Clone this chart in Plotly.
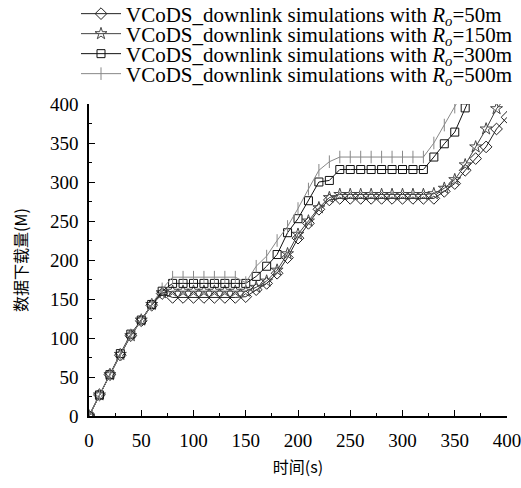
import plotly.graph_objects as go

time_s = [0, 10, 20, 30, 40, 50, 60, 70, 80, 90, 100, 110, 120, 130, 140, 150,
          160, 170, 180, 190, 200, 210, 220, 230, 240, 250, 260, 270, 280, 290,
          300, 310, 320, 330, 340, 350, 360, 370, 380, 390, 400]

r50 = [0, 27, 53, 78, 103, 122, 142, 157, 152, 152, 152, 152, 152, 152, 152, 153,
       162, 170, 183, 203, 228, 247, 265, 277, 279, 279, 279, 279, 279, 279,
       279, 279, 279, 279, 288, 298, 315, 330, 345, 368, 383]

r150 = [0, 27, 53, 79, 103, 123, 143, 158, 160, 160, 160, 160, 160, 160, 160, 160,
        165, 173, 187, 208, 233, 250, 267, 280, 284, 284, 284, 284, 284, 284,
        284, 284, 284, 285, 292, 303, 322, 345, 368, 394, 410]

r300 = [0, 27, 53, 80, 105, 123, 143, 160, 170, 170, 170, 170, 170, 170, 170, 170,
        179, 192, 207, 235, 253, 276, 300, 302, 316, 316, 316, 316, 316, 316,
        316, 316, 316, 332, 349, 364, 395, 425, None, None, None]

r500 = [0, 27, 53, 79, 104, 122, 143, 163, 178, 178, 178, 178, 178, 178, 178, 171,
        192, 205, 225, 243, 266, 291, 315, 326, 332, 332, 332, 332, 332, 332,
        332, 332, 332, 350, 373, 396, 420, None, None, None, None]

names = ["VCoDS_downlink simulations with <i>R<sub>o</sub></i>=50m",
         "VCoDS_downlink simulations with <i>R<sub>o</sub></i>=150m",
         "VCoDS_downlink simulations with <i>R<sub>o</sub></i>=300m",
         "VCoDS_downlink simulations with <i>R<sub>o</sub></i>=500m"]

x_ticks = [0, 50, 100, 150, 200, 250, 300, 350, 400]
y_ticks = [0, 50, 100, 150, 200, 250, 300, 350, 400]

series = [r50, r150, r300, r500]
symbols = ["diamond-open", "star-open", "square-open", "line-ns-open"]
colors = ["#222222", "#444444", "#111111", "#888888"]
sizes = [9, 9, 8, 9]
legend_ids = ["legend", "legend2", "legend3", "legend4"]

serif = "Liberation Serif, Times New Roman, serif"
cjk = "Noto Sans CJK SC"

fig = go.Figure()
for ys, nm, sym, col, sz, lg in zip(series, names, symbols, colors, sizes, legend_ids):
    fig.add_trace(go.Scatter(
        x=time_s, y=ys, name=nm, mode="lines+markers",
        line=dict(color=col, width=1),
        marker=dict(symbol=sym, size=sz, color=col, line=dict(color=col, width=1)),
        cliponaxis=True, legend=lg,
    ))

# plot area: x 89..507 px, y 104..416 px
W, H = 521, 488
L, R, T, B = 89, 14, 104, 72
pw, ph = W - L - R, H - T - B


def legend_box(center_y_px):
    return dict(
        x=(76 - L) / pw, y=1 + (T - center_y_px) / ph,
        xanchor="left", yanchor="middle",
        font=dict(family=serif, size=21, color="black"),
        bgcolor="rgba(0,0,0,0)", itemwidth=40, borderwidth=0,
    )


layout_legends = {}
for i, lg in enumerate(legend_ids):
    layout_legends[lg] = legend_box(14 + 20 * i)

fig.update_layout(
    width=W, height=H,
    margin=dict(l=L, r=R, t=T, b=B, autoexpand=False),
    paper_bgcolor="white", plot_bgcolor="white",
    font=dict(family=serif, size=18, color="black"),
    showlegend=True,
    xaxis=dict(range=[0, 400], tickvals=x_ticks, ticktext=[str(v) for v in x_ticks],
               showgrid=False, zeroline=False, showline=True, linecolor="black", linewidth=1.5,
               ticks="inside", ticklen=6, tickwidth=1.2, tickcolor="black",
               minor=dict(dtick=25, tick0=0, ticks="inside", ticklen=3, tickwidth=1, tickcolor="black"),
               tickfont=dict(family=serif, size=19), ticklabelstandoff=6,
               ticklabeloverflow="allow",
               title=dict(text="时间(s)", font=dict(family=cjk, size=16), standoff=12)),
    yaxis=dict(range=[0, 400], tickvals=y_ticks, ticktext=[str(v) for v in y_ticks],
               showgrid=False, zeroline=False, showline=True, linecolor="black", linewidth=1.5,
               ticks="inside", ticklen=6, tickwidth=1.2, tickcolor="black",
               minor=dict(dtick=25, tick0=0, ticks="inside", ticklen=3, tickwidth=1, tickcolor="black"),
               tickfont=dict(family=serif, size=19), ticklabelstandoff=5,
               ticklabeloverflow="allow",
               title=dict(text="数据下载量(M)", font=dict(family=cjk, size=16), standoff=18)),
    **layout_legends,
)

fig.write_html("out.html")
